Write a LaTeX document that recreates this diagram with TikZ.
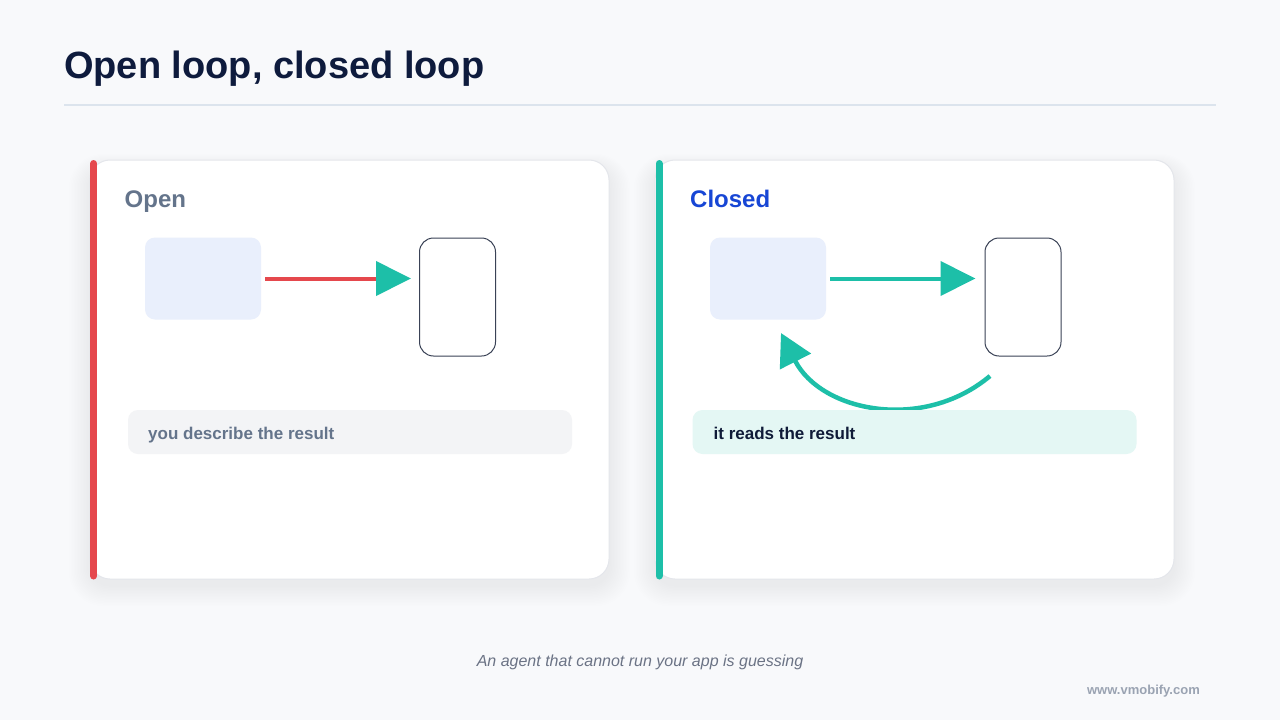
\documentclass[tikz,border=0pt]{standalone}
\usepackage{fontspec}
\setmainfont{Liberation Sans}
\usetikzlibrary{arrows.meta}
\definecolor{bg}{HTML}{F8F9FB}
\definecolor{titlec}{HTML}{0E1B3D}
\definecolor{rulec}{HTML}{DCE4ED}
\definecolor{cardline}{HTML}{E4E6EB}
\definecolor{accred}{HTML}{E5484D}
\definecolor{accteal}{HTML}{1DBFA8}
\definecolor{bluetxt}{HTML}{1746D5}
\definecolor{slatetxt}{HTML}{64748B}
\definecolor{lightblue}{HTML}{E9EFFC}
\definecolor{graybar}{HTML}{F3F4F6}
\definecolor{tealbar}{HTML}{E4F7F4}
\definecolor{boxline}{HTML}{3A4256}
\definecolor{captionc}{HTML}{6B7385}
\definecolor{markc}{HTML}{9AA3B2}
\definecolor{darktxt}{HTML}{0F1B38}
\definecolor{shadowc}{HTML}{1E2A50}
\begin{document}
\begin{tikzpicture}[x=1pt,y=-1pt,
  card/.style={fill=white,draw=cardline,line width=1pt,rounded corners=20pt,
    minimum width=519pt,minimum height=419pt,inner sep=0pt},
  srcbox/.style={fill=lightblue,rounded corners=10pt,minimum width=116pt,
    minimum height=82pt,inner sep=0pt},
  dstbox/.style={fill=white,draw=boxline,line width=1pt,rounded corners=14pt,
    minimum width=76pt,minimum height=118pt,inner sep=0pt},
  labelbar/.style={rounded corners=10pt,minimum width=444pt,minimum height=44pt,inner sep=0pt},
  txt/.style={anchor=base west,inner sep=0pt},
  redline/.style={draw=accred,line width=4pt},
  tealline/.style={draw=accteal,line width=4.5pt},
  tip/.style={-{Triangle[length=35pt,width=34pt,color=accteal]}},
  accent/.style={line width=7pt,line cap=round}
]
\useasboundingbox (0,0) rectangle (1280,720);
\fill[bg] (0,0) rectangle (1280,720);

% title
\node[txt,text=titlec] (title) at (64,78) {\fontsize{38}{46}\selectfont\bfseries Open loop, closed loop};
\draw[rulec,line width=2pt] (64,105) -- (1216,105);

% shadows
\foreach \cx in {349.5,914.5}{
  \foreach \i in {1,...,14}{
    \fill[shadowc,opacity=0.0045,rounded corners=20pt+\i pt]
      (\cx-259.5-\i*1.5,160+8-\i*1.0) rectangle (\cx+259.5+\i*1.5,579+6+\i*1.5);
  }
}

% cards
\node[card] (card1) at (349.5,369.5) {};
\node[card] (card2) at (914.5,369.5) {};
\draw[accent,accred] (93.7,163.5) -- (93.7,576);
\draw[accent,accteal] (659,163.5) -- (659,576);

% open card
\node[txt,text=slatetxt] (open) at (124.5,207) {\fontsize{24}{28}\selectfont\bfseries Open};
\node[srcbox] (a1) at (203,278.5) {};
\node[dstbox] (b1) at (457.5,297) {};
\draw[redline,tip,shorten <=4pt,shorten >=8pt] (a1.east) -- (a1.east -| b1.west);
\node[labelbar,fill=graybar] (bar1) at (350,432) {};
\node[txt,text=slatetxt] (lab1) at (148,439) {\fontsize{17}{20}\selectfont\bfseries you describe the result};

% closed card
\node[txt,text=bluetxt] (closed) at (690,207) {\fontsize{24}{28}\selectfont\bfseries Closed};
\node[srcbox] (a2) at (768,278.5) {};
\node[dstbox] (b2) at (1023,297) {};
\draw[tealline,line width=4pt,tip,shorten <=4pt,shorten >=9pt] (a2.east) -- (a2.east -| b2.west);
\coordinate (fbs) at (990,376);
\coordinate (fbe) at (781,333);
\draw[tealline,-{Triangle[length=32pt,width=34pt]}] (fbs) .. controls (922.8,432.4) and (821,411.7) .. (fbe);
\node[labelbar,fill=tealbar] (bar2) at (914.5,432) {};
\node[txt,text=darktxt] (lab2) at (713.5,439) {\fontsize{17}{20}\selectfont\bfseries it reads the result};

% caption
\node[anchor=base,inner sep=0pt,text=captionc] (cap) at (640,666) {\fontsize{16}{19}\selectfont\itshape An agent that cannot run your app is guessing};
\node[anchor=base east,inner sep=0pt,text=markc] (mark) at (1200,694) {\fontsize{13}{15}\selectfont\bfseries www.vmobify.com};
\end{tikzpicture}
\end{document}
